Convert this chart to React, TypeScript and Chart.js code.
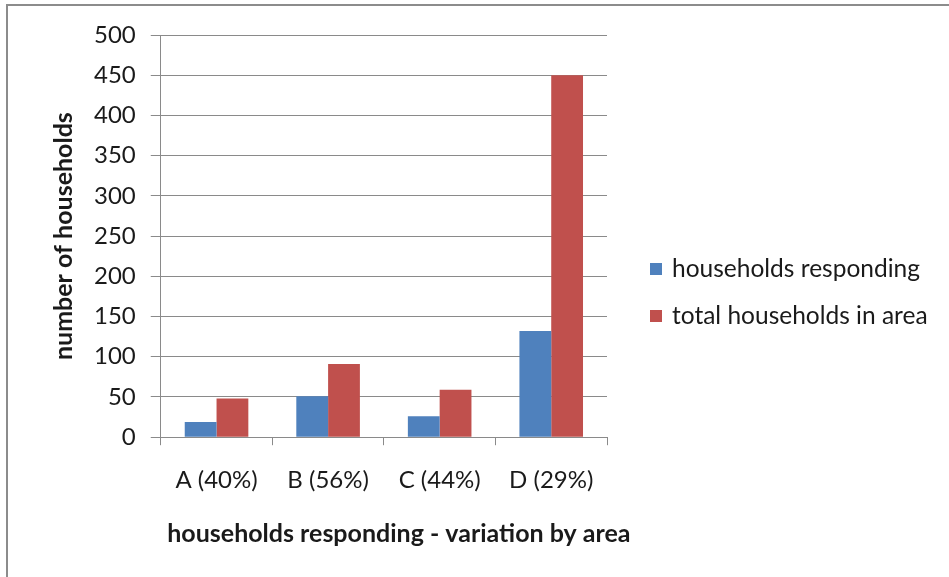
import React, { useEffect, useRef } from "react";
import { Chart, registerables } from "chart.js";

Chart.register(...registerables);

const areas = ["A (40%)", "B (56%)", "C (44%)", "D (29%)"];
const responding = [19, 51, 26, 132];
const totalHouseholds = [48, 91, 59, 450];
const seriesNames = ["households responding", "total households in area"];
const seriesColors = ["#4F81BD", "#C0504D"];
const xAxisTitle = "households responding - variation by area";
const yAxisTitle = "number of households";

const FONT = "Lato, 'Liberation Sans', sans-serif";
const GRID = "#8a8a8a";
const TEXT = "#1a1a1a";

// Legend beside the plot (one square swatch + label per dataset)
// and the category axis title, set slightly right of the plot centre.
const sideDecorations = {
  id: "sideDecorations",
  afterDraw(chart: any) {
    const { ctx, chartArea } = chart;
    ctx.save();
    ctx.font = `24.5px ${FONT}`;
    ctx.textBaseline = "middle";
    ctx.textAlign = "left";
    const x0 = chartArea.right + 43;
    const y0 = 269;
    chart.data.datasets.forEach((ds: any, i: number) => {
      const y = y0 + i * 47;
      ctx.fillStyle = ds.backgroundColor;
      ctx.fillRect(x0, y - 6, 12, 12);
      ctx.fillStyle = TEXT;
      ctx.fillText(ds.label, x0 + 22, y);
    });

    ctx.font = `bold 25px ${FONT}`;
    ctx.textAlign = "center";
    ctx.textBaseline = "alphabetic";
    ctx.fillStyle = TEXT;
    ctx.fillText(xAxisTitle, (chartArea.left + chartArea.right) / 2 + 15, chartArea.bottom + 105);
    ctx.restore();
  },
};

export default function App() {
  const canvasRef = useRef<HTMLCanvasElement | null>(null);

  useEffect(() => {
    if (!canvasRef.current) return;
    const chart = new Chart(canvasRef.current, {
      type: "bar",
      data: {
        labels: areas,
        datasets: [
          {
            label: seriesNames[0],
            data: responding,
            backgroundColor: seriesColors[0],
            barPercentage: 1,
            categoryPercentage: 0.57,
          },
          {
            label: seriesNames[1],
            data: totalHouseholds,
            backgroundColor: seriesColors[1],
            barPercentage: 1,
            categoryPercentage: 0.57,
          },
        ],
      },
      options: {
        animation: false,
        responsive: false,
        maintainAspectRatio: false,
        layout: { padding: { left: 49, right: 342, top: 35, bottom: 61 } },
        plugins: {
          legend: { display: false },
          tooltip: { enabled: false },
        },
        scales: {
          x: {
            grid: {
              display: true,
              drawOnChartArea: false,
              drawTicks: true,
              tickLength: 8,
              color: GRID,
            },
            border: { display: true, color: GRID },
            ticks: {
              color: TEXT,
              font: { family: FONT, size: 24 },
              padding: 21,
              maxRotation: 0,
            },
          },
          y: {
            min: 0,
            max: 500,
            grid: {
              color: GRID,
              drawTicks: true,
              tickLength: 10,
            },
            border: { display: true, color: GRID },
            ticks: {
              stepSize: 50,
              color: TEXT,
              font: { family: FONT, size: 24 },
              padding: 15,
            },
            title: {
              display: true,
              text: yAxisTitle,
              color: TEXT,
              font: { family: FONT, size: 25, weight: "bold" },
              padding: { top: 0, bottom: 0 },
            },
          },
        },
      },
      plugins: [sideDecorations],
    });
    return () => chart.destroy();
  }, []);

  return (
    <div
      style={{
        position: "fixed",
        left: 0,
        top: 0,
        width: 949,
        height: 577,
        background: "#ffffff",
      }}
    >
      <canvas ref={canvasRef} width={949} height={577} style={{ display: "block" }} />
      <div
        style={{
          position: "absolute",
          left: 6,
          top: 4,
          right: 0,
          bottom: 0,
          borderLeft: "2px solid #8c8c8c",
          borderTop: "2px solid #8c8c8c",
          pointerEvents: "none",
        }}
      />
    </div>
  );
}
